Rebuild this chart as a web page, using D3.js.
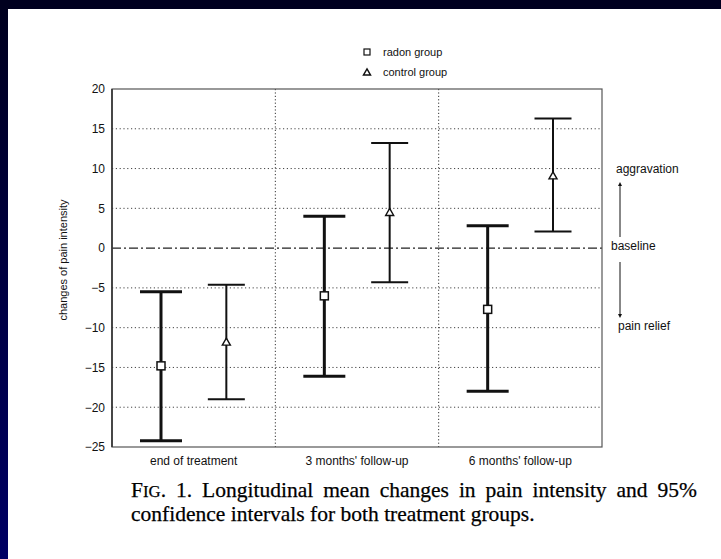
<!DOCTYPE html>
<html><head><meta charset="utf-8">
<script src="https://cdn.jsdelivr.net/npm/d3@7"></script>
<style>
html,body{margin:0;padding:0;width:100%;height:100%;overflow:hidden;background:#fff;}
svg{position:absolute;left:0;top:0;display:block;}
</style></head>
<body>
<script>
const categories = ["end of treatment", "3 months' follow-up", "6 months' follow-up"];
const radonMean = [-14.8, -6.0, -7.7];
const radonLow = [-24.2, -16.1, -18.0];
const radonHigh = [-5.5, 4.0, 2.8];
const controlMean = [-11.9, 4.4, 9.0];
const controlLow = [-19.0, -4.3, 2.1];
const controlHigh = [-4.6, 13.2, 16.3];
const yTicks = [20, 15, 10, 5, 0, -5, -10, -15, -20, -25];
const seriesNames = ["radon group", "control group"];

const W = 721, H = 559;
const svg = d3.select("body").append("svg").attr("width", W).attr("height", H);

const defs = svg.append("defs");
const grad = defs.append("linearGradient").attr("id", "bg").attr("x1", 0).attr("y1", 0).attr("x2", 0).attr("y2", 1);
grad.append("stop").attr("offset", "0%").attr("stop-color", "#00001e");
grad.append("stop").attr("offset", "100%").attr("stop-color", "#000064");
svg.append("rect").attr("x", 0).attr("y", 0).attr("width", 8).attr("height", H).attr("fill", "url(#bg)");
svg.append("rect").attr("x", 0).attr("y", 0).attr("width", W).attr("height", 9).attr("fill", "#00001f");

const L = 112, R = 602, T = 89, B = 447;
const x = d3.scaleBand().domain(categories).range([L, R]);
const y = d3.scaleLinear().domain([-25, 20]).range([B, T]);
const bw = x.bandwidth();
const off = { radon: -0.2 * bw, control: 0.2 * bw };

const g = svg.append("g");

// gridlines
g.selectAll(".hg").data(yTicks.filter(t => t !== 20 && t !== -25 && t !== 0)).enter()
  .append("line").attr("x1", L).attr("x2", R).attr("y1", d => y(d)).attr("y2", d => y(d))
  .attr("stroke", "#444").attr("stroke-width", 1).attr("stroke-dasharray", "1.2,2.6");
g.selectAll(".vg").data(categories.slice(1)).enter()
  .append("line").attr("x1", d => x(d)).attr("x2", d => x(d)).attr("y1", T).attr("y2", B)
  .attr("stroke", "#333").attr("stroke-width", 1).attr("stroke-dasharray", "1.2,2.2");

// baseline
g.append("line").attr("x1", L).attr("x2", R).attr("y1", y(0)).attr("y2", y(0))
  .attr("stroke", "#222").attr("stroke-width", 1.2).attr("stroke-dasharray", "9,3,2,3");

// frame
g.append("rect").attr("x", L).attr("y", T).attr("width", R - L).attr("height", B - T)
  .attr("fill", "none").attr("stroke", "#555").attr("stroke-width", 1.2);
g.append("line").attr("x1", L).attr("x2", L).attr("y1", T).attr("y2", B).attr("stroke", "#333").attr("stroke-width", 1.6);

// y axis tick labels
const yAxis = d3.axisLeft(y).tickValues(yTicks).tickSize(0).tickPadding(7);
const ya = svg.append("g").attr("transform", `translate(${L},0)`).call(yAxis);
ya.select(".domain").remove();
ya.selectAll("text").attr("font-family", "Liberation Sans, Arial, sans-serif").attr("font-size", 12).attr("fill", "#111");

// x axis labels
const xAxis = d3.axisBottom(x).tickSize(0).tickPadding(9);
const xa = svg.append("g").attr("transform", `translate(0,${B})`).call(xAxis);
xa.select(".domain").remove();
xa.selectAll("text").attr("font-family", "Liberation Sans, Arial, sans-serif").attr("font-size", 12).attr("fill", "#111");

// y label
svg.append("text").attr("transform", `translate(67,${(T + B) / 2 - 8}) rotate(-90)`)
  .attr("text-anchor", "middle").attr("font-family", "Liberation Sans, Arial, sans-serif")
  .attr("font-size", 11).attr("fill", "#111").text("changes of pain intensity");

function drawSeries(mean, low, high, key, sw, cap) {
  const data = categories.map((c, i) => ({ c, m: mean[i], lo: low[i], hi: high[i] }));
  const gg = svg.append("g");
  gg.selectAll(".v").data(data).enter().append("line")
    .attr("x1", d => x(d.c) + bw / 2 + off[key]).attr("x2", d => x(d.c) + bw / 2 + off[key])
    .attr("y1", d => y(d.lo)).attr("y2", d => y(d.hi)).attr("stroke", "#111").attr("stroke-width", sw);
  ["lo", "hi"].forEach(k => {
    gg.selectAll(".c" + k).data(data).enter().append("line")
      .attr("x1", d => x(d.c) + bw / 2 + off[key] - cap / 2).attr("x2", d => x(d.c) + bw / 2 + off[key] + cap / 2)
      .attr("y1", d => y(d[k])).attr("y2", d => y(d[k])).attr("stroke", "#111").attr("stroke-width", sw);
  });
  return { gg, data };
}
const rs = drawSeries(radonMean, radonLow, radonHigh, "radon", 3, 42);
rs.gg.selectAll(".m").data(rs.data).enter().append("rect")
  .attr("x", d => x(d.c) + bw / 2 + off.radon - 4).attr("y", d => y(d.m) - 4)
  .attr("width", 8).attr("height", 8).attr("fill", "#fff").attr("stroke", "#111").attr("stroke-width", 1.5);
const cs = drawSeries(controlMean, controlLow, controlHigh, "control", 2, 37);
const tri = d3.symbol().type(d3.symbolTriangle).size(28);
cs.gg.selectAll(".m").data(cs.data).enter().append("path")
  .attr("d", tri).attr("transform", d => `translate(${x(d.c) + bw / 2 + off.control},${y(d.m)})`)
  .attr("fill", "#fff").attr("stroke", "#111").attr("stroke-width", 1.4);

// legend
const lg = svg.append("g").attr("font-family", "Liberation Sans, Arial, sans-serif").attr("font-size", 11).attr("fill", "#111");
lg.append("rect").attr("x", 364).attr("y", 49).attr("width", 6).attr("height", 6).attr("fill", "#fff").attr("stroke", "#111").attr("stroke-width", 1.2);
lg.append("path").attr("d", d3.symbol().type(d3.symbolTriangle).size(22)).attr("transform", "translate(367,73)")
  .attr("fill", "#fff").attr("stroke", "#111").attr("stroke-width", 1.4);
lg.append("text").attr("x", 383).attr("y", 56).text(seriesNames[0]);
lg.append("text").attr("x", 383).attr("y", 76).text(seriesNames[1]);

// right annotations
const ann = svg.append("g").attr("font-family", "Liberation Sans, Arial, sans-serif").attr("font-size", 12).attr("fill", "#111");
ann.append("text").attr("x", 616).attr("y", 173).text("aggravation");
ann.append("text").attr("x", 611).attr("y", 250).text("baseline");
ann.append("text").attr("x", 618).attr("y", 330).text("pain relief");
defs.append("marker").attr("id", "ah").attr("viewBox", "0 0 10 10").attr("refX", 5).attr("refY", 5)
  .attr("markerWidth", 4).attr("markerHeight", 4).attr("orient", "auto")
  .append("path").attr("d", "M0,0 L10,5 L0,10 z").attr("fill", "#111");
svg.append("line").attr("x1", 620).attr("x2", 620).attr("y1", 237).attr("y2", 184)
  .attr("stroke", "#111").attr("stroke-width", 1).attr("marker-end", "url(#ah)");
svg.append("line").attr("x1", 620).attr("x2", 620).attr("y1", 262).attr("y2", 316)
  .attr("stroke", "#111").attr("stroke-width", 1).attr("marker-end", "url(#ah)");

// caption (justified first line)
const cap = svg.append("g").attr("font-family", "Liberation Serif, Times New Roman, serif").attr("fill", "#000")
  .attr("stroke", "#000").attr("stroke-width", 0.25);
const fs = 21.5;
const t1 = cap.append("text").attr("x", 131).attr("y", 497).attr("font-size", fs);
t1.append("tspan").text("F");
t1.append("tspan").attr("font-size", fs * 0.78).text("IG");
const rest = ". 1. Longitudinal mean changes in pain intensity and 95%";
t1.append("tspan").text(rest);
const natural = t1.node().getComputedTextLength();
const spaces = (rest.match(/ /g) || []).length;
const ws = Math.max(0, (697 - 131 - natural) / spaces);
t1.attr("word-spacing", ws);
cap.append("text").attr("x", 131).attr("y", 521).attr("font-size", fs)
  .text("confidence intervals for both treatment groups.");
</script>
</body></html>
